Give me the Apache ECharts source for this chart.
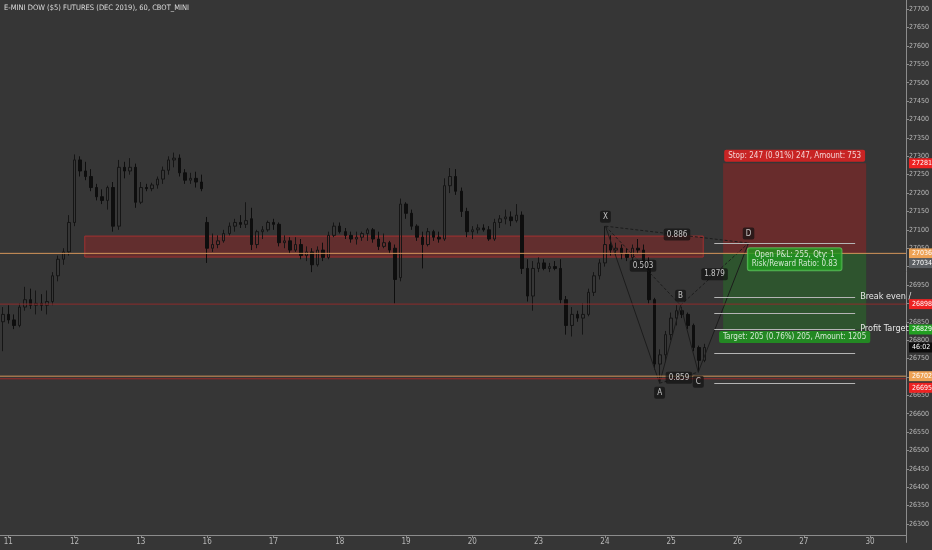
<!DOCTYPE html>
<html lang="en">
<head>
<meta charset="UTF-8">
<title>E-MINI DOW ($5) FUTURES</title>
<script src="https://cdn.jsdelivr.net/npm/echarts@6/dist/echarts.min.js"></script>
<style>
    html, body { margin: 0; padding: 0; background: #363636; }
    #main { width: 932px; height: 550px; }
</style>
</head>
<body>
<div id="main"></div>
<script>
const chartTitle = 'E-MINI DOW ($5) FUTURES (DEC 2019), 60, CBOT_MINI';

// 2-hour candles: [open, high, low, close]
const candles = [
    [26850,26890,26770,26870],[26870,26895,26845,26855],[26855,26870,26830,26840],[26840,26900,26835,26890],
    [26890,26945,26880,26910],[26910,26940,26885,26895],[26895,26935,26870,26900],[26900,26925,26880,26895],
    [26895,26935,26870,26905],[26905,26985,26895,26975],[26975,27030,26960,27020],[27020,27050,27005,27040],
    [27040,27140,27030,27120],[27120,27305,27110,27290],[27290,27300,27245,27260],[27260,27285,27235,27245],
    [27245,27265,27205,27215],[27215,27225,27180,27190],[27190,27210,27170,27180],[27180,27220,27155,27215],
    [27215,27230,27095,27110],[27110,27290,27100,27270],[27270,27285,27240,27260],[27260,27295,27250,27270],
    [27270,27280,27160,27175],[27175,27230,27170,27215],[27215,27225,27205,27212],[27212,27228,27205,27222],
    [27222,27245,27212,27238],[27238,27272,27225,27262],[27262,27300,27250,27290],[27290,27310,27270,27295],
    [27295,27305,27245,27255],[27255,27265,27225,27235],[27235,27255,27225,27240],[27240,27258,27215,27230],
    [27230,27250,27205,27212],[27120,27135,27010,27050],[27050,27090,27040,27060],[27060,27085,27050,27070],
    [27070,27100,27065,27090],[27090,27120,27085,27110],[27110,27130,27095,27120],[27120,27140,27105,27115],
    [27115,27175,27105,27125],[27130,27160,27045,27060],[27060,27100,27050,27095],[27095,27110,27075,27100],
    [27100,27125,27095,27120],[27120,27130,27100,27115],[27115,27120,27055,27065],[27065,27085,27050,27070],
    [27070,27080,27035,27045],[27045,27080,27040,27060],[27060,27075,27020,27030],[27030,27055,27015,27040],
    [27040,27050,26985,27005],[27005,27055,27000,27045],[27045,27065,27015,27025],[27025,27095,27020,27085],
    [27085,27120,27080,27110],[27110,27120,27090,27095],[27095,27105,27075,27085],[27085,27095,27065,27075],
    [27075,27095,27060,27080],[27080,27095,27070,27090],[27090,27105,27070,27100],[27100,27105,27065,27075],
    [27075,27095,27045,27055],[27055,27090,27050,27065],[27065,27070,27035,27045],[27050,27060,26900,26965],
    [26970,27185,26960,27170],[27170,27175,27130,27145],[27145,27155,27100,27110],[27110,27115,27070,27080],
    [27080,27095,26995,27060],[27060,27105,27055,27095],[27095,27100,27070,27080],[27080,27095,27065,27075],
    [27075,27240,27070,27220],[27220,27268,27200,27245],[27245,27265,27195,27205],[27205,27215,27135,27150],
    [27150,27160,27080,27095],[27095,27110,27075,27100],[27100,27115,27090,27105],[27105,27115,27095,27100],
    [27100,27110,27070,27075],[27075,27130,27070,27120],[27120,27140,27105,27130],[27130,27155,27115,27135],
    [27135,27150,27110,27125],[27125,27170,27120,27140],[27140,27150,26980,26995],[26995,27020,26905,26920],
    [26920,27015,26880,26995],[26995,27025,26985,27010],[27010,27020,26990,26995],[26995,27010,26985,27000],
    [27000,27015,26990,26995],[26995,27020,26900,26910],[26910,26920,26815,26840],[26840,26890,26810,26870],
    [26870,26880,26850,26860],[26860,26900,26815,26870],[26870,26940,26865,26930],[26930,26985,26920,26975],
    [26975,27020,26965,27010],[27010,27110,27000,27060],[27060,27085,27030,27045],[27045,27065,27030,27050],
    [27050,27060,27020,27035],[27035,27050,27015,27025],[27025,27060,27015,27050],[27050,27075,27035,27045],
    [27045,27060,26995,27005],[27005,27025,26900,26910],[26910,26915,26720,26735],[26735,26775,26683,26760],
    [26760,26825,26740,26815],[26815,26875,26800,26860],[26860,26895,26840,26880],[26880,26890,26860,26870],
    [26870,26875,26830,26840],[26840,26845,26770,26780],[26780,26785,26713,26745],[26745,26790,26740,26780]
];
// time slots on the axis (candles + empty future space)
const slotCount = 164;
const dayLabels = ['11','12','13','16','17','18','19','20','23','24','25','26','27','30'];
const dayStartIdx = [1,13,25,37,49,61,73,85,97,109,121,133,145,157];

// drawings
const hLinePrices = [27036, 26898, 26702, 26695];
const zoneIdx = [14.85, 126.8];
const zonePrice = [27026, 27083];

const patternNames = ['X','A','B','C','D'];
const patternIdx = [109.1, 118.9, 122.7, 125.9, 135.0];
const patternPrice = [27110, 26683, 26895, 26713, 27064];
const ratioPairs = [[0,4],[0,2],[2,4],[1,3]];
const ratioTexts = ['0.886','0.503','1.879','0.859'];

const entryPrice = 27036;
const stopPrice = 27281;
const targetPrice = 26829;
const positionIdx = [130.4, 156.3];
const stopText = 'Stop: 247 (0.91%) 247, Amount: 753';
const pnlText = 'Open P&L: 255, Qty: 1\nRisk/Reward Ratio: 0.83';
const targetText = 'Target: 205 (0.76%) 205, Amount: 1205';

const fibLevels = [27064, 26917, 26874, 26830, 26765, 26683];
const fibIdx = [128.8, 154.3];
const fibTexts = ['', 'Break even /', '', 'Profit Target :', '', ''];

// price tags on the right scale
const tagValues = [27281, 27036, 27034, 26898, 26829, 26780, 26702, 26695];
const tagTexts = ['27281','27036','27034','26898','26829','46:02','26702','26695'];

const FONT = "'Liberation Sans Narrow','DejaVu Sans Condensed','Liberation Sans',sans-serif";
const hLineColor = ['#d4955a', '#8e2c2c', '#d4955a', '#9a2a2a'];
const tagBg = ['#ee2222', '#eea255', '#5c5f63', '#ee2222', '#22a022', '#0c0c0c', '#eea255', '#ee2222'];
const tagShift = [0, 0, 9, 0, 0, 0, 0, 9];
const pointLabelPos = ['top', 'bottom', 'top', 'bottom', 'top'];

let myChart = echarts.init(document.getElementById('main'));

let slotNames = [];
for (let i = 0; i < slotCount; i++) {
    let k = dayStartIdx.indexOf(i);
    slotNames.push(k >= 0 ? dayLabels[k] : '');
}
// echarts wants [open, close, low, high]
let candleData = candles.map(c => [c[0], c[3], c[2], c[1]]);

let patternPts = patternIdx.map((x, i) => [x, patternPrice[i]]);

let ratioLabelData = ratioPairs.map((p, i) => ({
    value: [(patternIdx[p[0]] + patternIdx[p[1]]) / 2, (patternPrice[p[0]] + patternPrice[p[1]]) / 2],
    name: ratioTexts[i]
}));

// each full-width horizontal line is a two-point line series across the hidden value axis
let hLineSeries = hLinePrices.map((p, i) => ({
    type: 'line', name: 'hline' + i, xAxisIndex: 1, z: 5, symbol: 'none', silent: true,
    data: [[-0.5, p], [slotCount - 0.5, p]],
    lineStyle: {color: hLineColor[i], width: 1}
}));
let fibMarks = fibLevels.map((p, i) => [
    {
        coord: [fibIdx[0], p],
        lineStyle: {color: '#b5b5b5', width: 1, type: 'solid', opacity: 1},
        label: {show: fibTexts[i] !== '', formatter: fibTexts[i], position: 'end', distance: 5,
            color: '#e6e6e6', fontSize: 9, fontFamily: FONT}
    },
    {coord: [fibIdx[1], p]}
]);

let boxLabel = {color: '#fff', fontSize: 8, fontFamily: FONT, padding: [2, 4], borderRadius: 2};
let midPos = (positionIdx[0] + positionIdx[1]) / 2;

let option = {
    backgroundColor: '#363636',
    animation: false,
    title: {
        text: chartTitle, left: 4, top: 4, padding: 0,
        textStyle: {color: '#dcdcdc', fontSize: 7.5, fontWeight: 'normal', fontFamily: FONT}
    },
    grid: {left: 0, right: 24, top: 0, bottom: 7.6},
    xAxis: [
        {
            type: 'category', data: slotNames, boundaryGap: true, offset: -7.4,
            axisLine: {onZero: false, lineStyle: {color: '#8c8c8c'}},
            axisTick: {show: true, alignWithLabel: true, length: 3, interval: (i, v) => v !== '',
                lineStyle: {color: '#8c8c8c'}},
            axisLabel: {interval: (i, v) => v !== '', color: '#b8b8b8', fontSize: 8, margin: 3, fontFamily: FONT},
            splitLine: {show: false}
        },
        {type: 'value', min: -0.5, max: slotCount - 0.5, show: false,
            axisLine: {show: false, onZero: false}, splitLine: {show: false}}
    ],
    yAxis: {
        type: 'value', position: 'right', min: 26250, max: 27725, interval: 50,
        axisLine: {show: true, onZero: false, lineStyle: {color: '#8c8c8c'}},
        axisTick: {show: true, length: 3, lineStyle: {color: '#8c8c8c'}},
        axisLabel: {color: '#b8b8b8', fontSize: 7, margin: 3, fontFamily: FONT,
            formatter: v => String(v), showMinLabel: false, showMaxLabel: false},
        splitLine: {show: false}
    },
    series: [
        {
            type: 'candlestick', name: 'YM', xAxisIndex: 0, data: candleData, barWidth: 3, z: 3,
            itemStyle: {color: 'transparent', color0: '#0e0e0e', borderColor: '#151515',
                borderColor0: '#0e0e0e', borderWidth: 1}
        },
        ...hLineSeries,
        {
            type: 'line', name: 'XABCD', xAxisIndex: 1, data: patternPts, symbol: 'none', z: 4,
            lineStyle: {color: '#1c1c1c', width: 1},
            markArea: {
                z: 1, silent: true,
                data: [
                    [{coord: [zoneIdx[0], zonePrice[1]],
                        itemStyle: {color: 'rgba(160,35,35,0.42)', borderColor: '#a33030', borderWidth: 1}},
                     {coord: [zoneIdx[1], zonePrice[0]]}],
                    [{coord: [positionIdx[0], stopPrice], itemStyle: {color: 'rgba(175,30,30,0.42)'}},
                     {coord: [positionIdx[1], entryPrice]}],
                    [{coord: [positionIdx[0], entryPrice], itemStyle: {color: 'rgba(30,150,30,0.32)'}},
                     {coord: [positionIdx[1], targetPrice]}]
                ],
                label: {show: false}
            },
            markLine: {
                silent: true, symbol: ['none', 'none'], z: 5,
                label: {show: false},
                data: fibMarks
            }
        },
        {
            type: 'lines', coordinateSystem: 'cartesian2d', xAxisIndex: 1, yAxisIndex: 0, z: 4, silent: true,
            data: ratioPairs.map(p => ({coords: [patternPts[p[0]], patternPts[p[1]]]})),
            lineStyle: {color: '#1c1c1c', width: 1, type: [3, 2], opacity: 1}
        },
        {
            type: 'scatter', xAxisIndex: 1, symbolSize: 1, z: 6, silent: true,
            itemStyle: {color: 'transparent'},
            data: ratioLabelData,
            label: {show: true, position: 'inside', formatter: p => p.name, color: '#ececec',
                backgroundColor: 'rgba(16,16,16,0.85)', padding: [2, 3], borderRadius: 2,
                fontSize: 8, fontFamily: FONT}
        },
        {
            type: 'scatter', xAxisIndex: 1, symbolSize: 1, z: 6, silent: true,
            itemStyle: {color: 'transparent'},
            data: patternPts.map((pt, i) => ({
                value: pt, name: patternNames[i],
                label: {position: pointLabelPos[i]}
            })),
            label: {show: true, distance: 3, formatter: p => p.name, color: '#ececec',
                backgroundColor: 'rgba(16,16,16,0.85)', padding: [2, 3], borderRadius: 2,
                fontSize: 8, fontFamily: FONT}
        },
        {
            type: 'scatter', xAxisIndex: 1, symbolSize: 1, z: 7, silent: true,
            itemStyle: {color: 'transparent'},
            label: {show: true, formatter: p => p.name},
            data: [
                {value: [midPos, stopPrice], name: stopText,
                    label: Object.assign({position: 'top', distance: 1, backgroundColor: '#ee2020'}, boxLabel)},
                {value: [midPos, entryPrice], name: pnlText,
                    label: Object.assign({position: 'inside', offset: [0, 6], backgroundColor: '#1f9a1f',
                        borderColor: '#5fc85f', borderWidth: 1, lineHeight: 9}, boxLabel)},
                {value: [midPos, targetPrice], name: targetText,
                    label: Object.assign({position: 'bottom', distance: 1, backgroundColor: '#1f9d1f'}, boxLabel)}
            ]
        }
    ]
};
myChart.setOption(option);

// price tags on the right scale, placed through the y axis
let tags = tagValues.map((v, i) => ({
    type: 'text', z: 100,
    x: 909,
    y: myChart.convertToPixel({yAxisIndex: 0}, v) + tagShift[i],
    style: {
        text: tagTexts[i], fill: '#fff', backgroundColor: tagBg[i],
        font: '7px ' + FONT, padding: [2, 2, 1, 3], verticalAlign: 'middle', align: 'left'
    }
}));
myChart.setOption({graphic: tags});
</script>
</body>
</html>
